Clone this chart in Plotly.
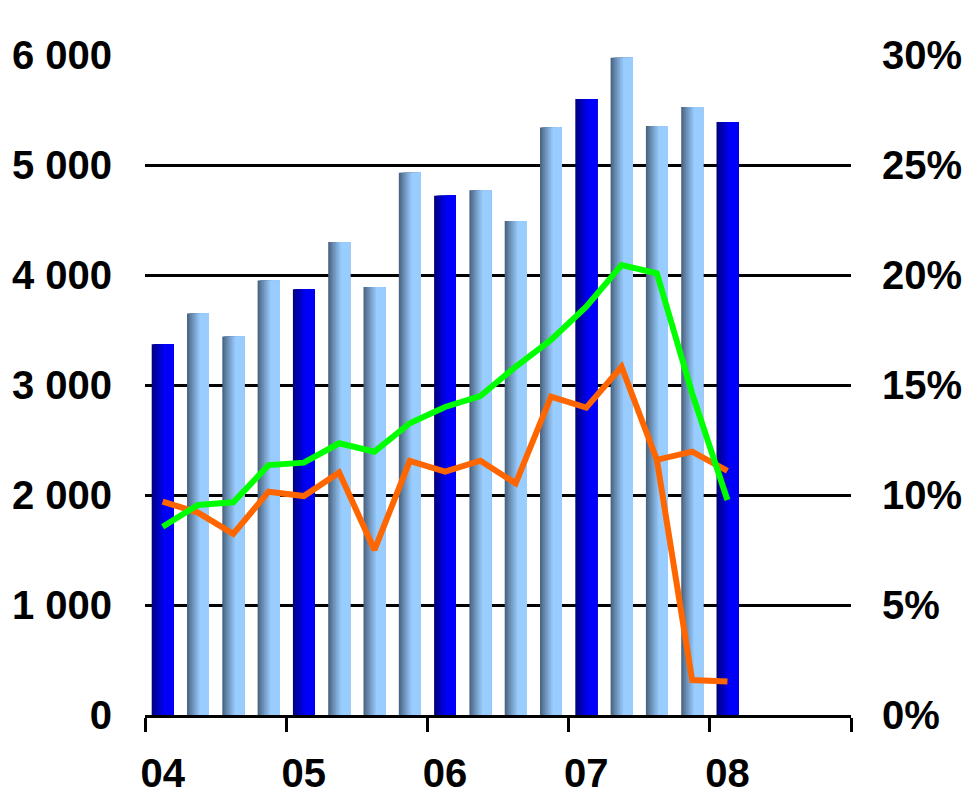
import plotly.graph_objects as go

# ---------------- data ----------------
quarters = ["04Q1", "04Q2", "04Q3", "04Q4",
            "05Q1", "05Q2", "05Q3", "05Q4",
            "06Q1", "06Q2", "06Q3", "06Q4",
            "07Q1", "07Q2", "07Q3", "07Q4",
            "08Q1"]
year_labels = ["04", "05", "06", "07", "08"]

bar_values = [3370, 3650, 3440, 3950,
              3870, 4300, 3890, 4930,
              4720, 4770, 4490, 5340,
              5600, 5975, 5355, 5527,
              5390]

green_pct = [8.56, 9.55, 9.67, 11.36,
             11.47, 12.35, 11.97, 13.26,
             14.0, 14.5, 15.83, 17.05,
             18.56, 20.45, 20.08, 14.62,
             9.77]

orange_pct = [9.7, 9.2, 8.23, 10.15,
              9.95, 11.02, 7.5, 11.55,
              11.06, 11.56, 10.53, 14.47,
              13.97, 15.83, 11.6, 11.97,
              11.1]

orange_alt_pct = [None, None, None, None,
                  None, None, None, None,
                  None, None, None, None,
                  None, None, 11.6, 1.59,
                  1.52]

left_ticks = [0, 1000, 2000, 3000, 4000, 5000, 6000]
left_tick_text = ["0", "1 000", "2 000", "3 000", "4 000", "5 000", "6 000"]
right_ticks = [0, 5, 10, 15, 20, 25, 30]
right_tick_text = ["0%", "5%", "10%", "15%", "20%", "25%", "30%"]

# ---------------- styling helpers ----------------
x_idx = list(range(len(quarters)))
year_pos = [i for i, q in enumerate(quarters) if q.endswith("Q1")]
slot_edges = [p - 0.5 for p in year_pos] + [year_pos[-1] + 3.5]

DARK_L, DARK_R = (0, 0, 118), (0, 0, 250)
LIGHT_L, LIGHT_R = (68, 92, 120), (153, 204, 255)


def mix(c1, c2, t):
    return "rgb(%d,%d,%d)" % tuple(round(a + (b - a) * t) for a, b in zip(c1, c2))


N = 14
W = 0.62
FONT = "Arial, Liberation Sans, sans-serif"

fig = go.Figure()

for k in range(N):
    u = (k + 0.5) / N
    t = min(1.0, u / 0.6)
    t = t ** 0.9
    colors = [mix(DARK_L, DARK_R, t) if q.endswith("Q1") else mix(LIGHT_L, LIGHT_R, t)
              for q in quarters]
    fig.add_trace(go.Bar(
        x=x_idx, y=bar_values,
        offset=-W / 2 + k * W / N, width=W - k * W / N,
        marker=dict(color=colors, line=dict(width=0)),
        yaxis="y", showlegend=False, hoverinfo="skip",
    ))

fig.add_trace(go.Scatter(x=x_idx, y=orange_alt_pct, mode="lines", yaxis="y2",
                         line=dict(color="#FF6600", width=6), connectgaps=False,
                         showlegend=False))
fig.add_trace(go.Scatter(x=x_idx, y=orange_pct, mode="lines", yaxis="y2",
                         line=dict(color="#FF6600", width=6), showlegend=False))
fig.add_trace(go.Scatter(x=x_idx, y=green_pct, mode="lines", yaxis="y2",
                         line=dict(color="#00FF00", width=6), showlegend=False))

tickfont = dict(family=FONT, size=40, color="black", weight="bold")

fig.update_layout(
    width=967, height=790,
    margin=dict(l=145, r=116, t=55, b=75),
    paper_bgcolor="white", plot_bgcolor="white",
    barmode="overlay",
    xaxis=dict(
        range=[-0.5, 19.5], automargin=False,
        tickmode="array", tickvals=year_pos, ticktext=year_labels,
        ticks="", showgrid=False, zeroline=False,
        showline=True, linecolor="black", linewidth=3,
        tickfont=tickfont, ticklabelstandoff=21,
        minor=dict(tickmode="array", tickvals=slot_edges, ticks="outside",
                   ticklen=14, tickwidth=3, tickcolor="black", showgrid=False),
    ),
    yaxis=dict(
        range=[0, 6000], automargin=False,
        tickmode="array", tickvals=left_ticks, ticktext=left_tick_text,
        showgrid=True, gridcolor="black", gridwidth=3,
        zeroline=False, showline=False, ticks="",
        tickfont=tickfont, ticklabelstandoff=32,
    ),
    yaxis2=dict(
        range=[0, 30], automargin=False,
        tickmode="array", tickvals=right_ticks, ticktext=right_tick_text,
        overlaying="y", side="right",
        showgrid=False, zeroline=False, showline=False, ticks="",
        tickfont=tickfont, ticklabelstandoff=30,
    ),
)

fig.write_html("out.html")
